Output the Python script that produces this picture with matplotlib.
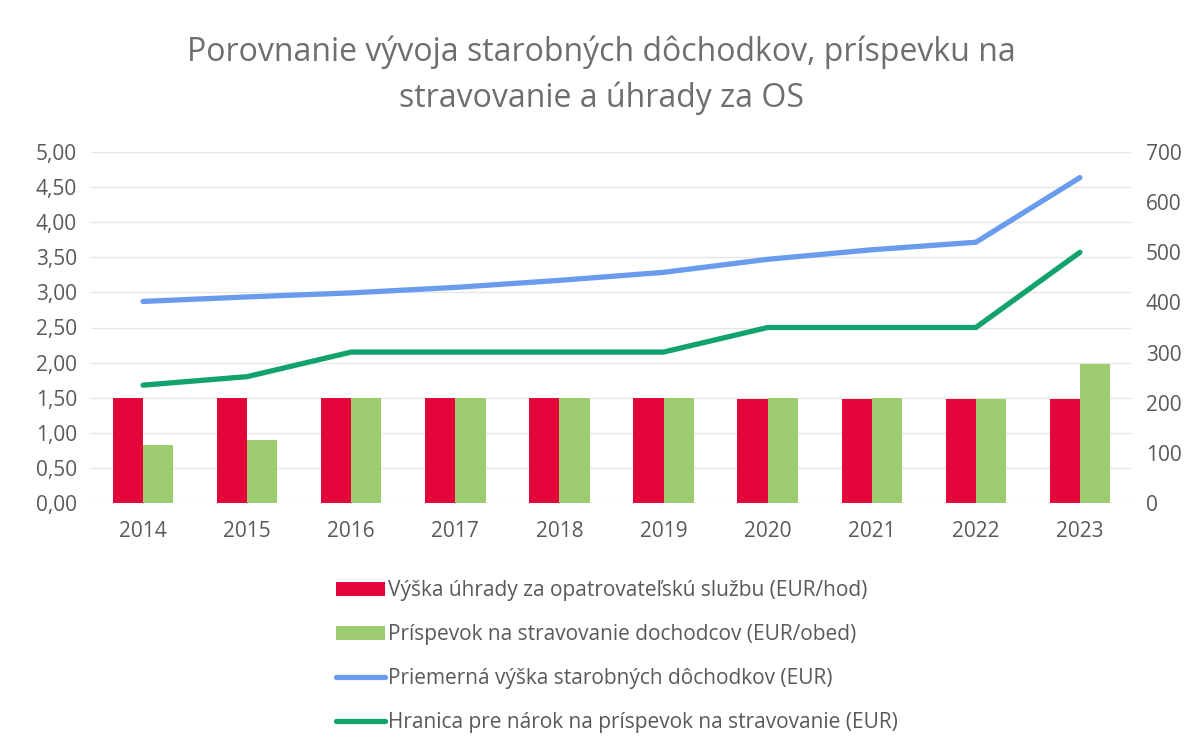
import numpy as np
import matplotlib.pyplot as plt
from matplotlib.ticker import FuncFormatter, MultipleLocator

years = ["2014", "2015", "2016", "2017", "2018", "2019", "2020", "2021", "2022", "2023"]
uhrada_os = [1.50, 1.50, 1.50, 1.50, 1.50, 1.49, 1.48, 1.48, 1.48, 1.48]
prispevok = [0.83, 0.90, 1.49, 1.49, 1.49, 1.49, 1.49, 1.49, 1.48, 1.98]
dochodky = [402, 411, 419, 430, 444, 460, 486, 505, 520, 649]
hranica = [235, 252, 301, 301, 301, 301, 350, 350, 350, 500]

labels = [
    "Výška úhrady za opatrovateľskú službu (EUR/hod)",
    "Príspevok na stravovanie dochodcov (EUR/obed)",
    "Priemerná výška starobných dôchodkov (EUR)",
    "Hranica pre nárok na príspevok na stravovanie (EUR)",
]

plt.rcParams["font.family"] = ["Open Sans", "DejaVu Sans"]
txt = "#595959"

fig = plt.figure(figsize=(12.03, 7.55), dpi=100)
ax = fig.add_axes([91 / 1203, 1 - 503 / 755, (1132 - 91) / 1203, (503 - 152) / 755])
ax2 = ax.twinx()

x = np.arange(len(years))
w = 0.29
b1 = ax.bar(x - w / 2, uhrada_os, w, color="#E4063B", label=labels[0], zorder=2)
b2 = ax.bar(x + w / 2, prispevok, w, color="#9DCB70", label=labels[1], zorder=2)
l1, = ax2.plot(x, dochodky, color="#6A9CEE", lw=3.8, label=labels[2], solid_capstyle="round")
l2, = ax2.plot(x, hranica, color="#11A36B", lw=3.8, label=labels[3], solid_capstyle="round")

ax.set_xlim(-0.5, len(years) - 0.5)
ax.set_ylim(0, 5)
ax2.set_ylim(0, 700)
ax.yaxis.set_major_locator(MultipleLocator(0.5))
ax2.yaxis.set_major_locator(MultipleLocator(100))
ax.yaxis.set_major_formatter(FuncFormatter(lambda v, p: f"{v:.2f}".replace(".", ",")))
ax.set_xticks(x)
ax.set_xticklabels(years)
ax.grid(axis="y", color="#E6E6E6", lw=1, zorder=0)
ax.set_axisbelow(True)

for a in (ax, ax2):
    for s in a.spines.values():
        s.set_visible(False)
    a.tick_params(length=0, labelsize=15, colors=txt)
ax.tick_params(axis="y", pad=10)
ax2.tick_params(axis="y", pad=10)
ax.tick_params(axis="x", pad=13)

fig.text(0.5, 1 - 52 / 755, "Porovnanie vývoja starobných dôchodkov, príspevku na",
         ha="center", va="center", fontsize=23, color="#6E6E6E")
fig.text(0.5, 1 - 98 / 755, "stravovanie a úhrady za OS",
         ha="center", va="center", fontsize=23, color="#6E6E6E")

fig.legend([b1, b2, l1, l2], labels, loc="upper left",
           bbox_to_anchor=(328 / 1203, 1 - 572 / 755), frameon=False,
           fontsize=15, labelcolor=txt, handlelength=2.35, handletextpad=0.15,
           labelspacing=1.1, borderaxespad=0)

fig.savefig("out.png", dpi=100)
